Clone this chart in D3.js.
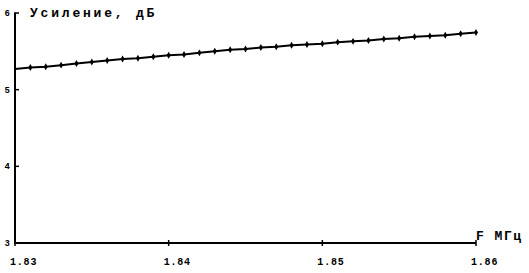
<!DOCTYPE html>
<html><head><meta charset="utf-8">
<script src="https://cdn.jsdelivr.net/npm/d3@7"></script>
<style>body{margin:0;background:#fff}svg{display:block}text{font-family:"Liberation Mono","DejaVu Sans Mono",monospace;font-weight:bold;fill:#000}</style>
</head><body><svg id="c" width="529" height="273"></svg>
<script>
const freq = [1.830,1.831,1.832,1.833,1.834,1.835,1.836,1.837,1.838,1.839,1.840,1.841,1.842,1.843,1.844,1.845,1.846,1.847,1.848,1.849,1.850,1.851,1.852,1.853,1.854,1.855,1.856,1.857,1.858,1.859,1.860];
const gain = [5.27,5.29,5.30,5.32,5.34,5.36,5.38,5.40,5.41,5.43,5.45,5.46,5.48,5.50,5.52,5.53,5.55,5.56,5.58,5.59,5.60,5.62,5.63,5.64,5.66,5.67,5.69,5.70,5.71,5.73,5.745];
const xTicks = [1.83,1.84,1.85,1.86];
const xTickLabels = ["1.83","1.84","1.85","1.86"];
const yTicks = [3,4,5,6];
const yTickLabels = ["3","4","5","6"];
const yTitle = "Усиление, дБ";
const xTitle = "F МГц";

const svg = d3.select("#c");
const x = d3.scaleLinear().domain([1.83,1.86]).range([15,476]);
const y = d3.scaleLinear().domain([3,6]).range([243,13]);

// axes lines
svg.append("line").attr("x1",x(1.83)).attr("x2",x(1.83)).attr("y1",y(6)).attr("y2",y(3)+1)
  .attr("stroke","#000").attr("stroke-width",2);
svg.append("line").attr("x1",x(1.83)).attr("x2",x(1.86)).attr("y1",y(3)).attr("y2",y(3))
  .attr("stroke","#000").attr("stroke-width",2);

// y ticks
yTicks.forEach((t,i)=>{
  svg.append("line").attr("x1",x(1.83)-1).attr("x2",x(1.83)+4).attr("y1",y(t)).attr("y2",y(t)).attr("stroke","#000").attr("stroke-width",1.5);
  svg.append("text").attr("x",10).attr("y",y(t)+3).attr("text-anchor","end").attr("font-size",9).text(yTickLabels[i]);
});
// x ticks
xTicks.forEach((t,i)=>{
  svg.append("line").attr("x1",x(t)).attr("x2",x(t)).attr("y1",y(3)-3).attr("y2",y(3)+3).attr("stroke","#000").attr("stroke-width",1.5);
  svg.append("text").attr("x",x(t)-5).attr("y",265).attr("font-size",10).attr("letter-spacing",0.8).text(xTickLabels[i]);
});

svg.append("text").attr("x",30).attr("y",17).attr("font-size",13).attr("letter-spacing",2.8).text(yTitle);
svg.append("text").attr("x",476).attr("y",240).attr("font-size",13).attr("letter-spacing",1.5).text(xTitle);

const pts = freq.map((f,i)=>[f,gain[i]]);
svg.append("path").datum(pts)
  .attr("d",d3.line().x(d=>x(d[0])).y(d=>y(d[1])))
  .attr("fill","none").attr("stroke","#000").attr("stroke-width",2);
svg.selectAll("path.m").data(pts.slice(1)).enter().append("path").attr("class","m")
  .attr("transform",d=>`translate(${x(d[0])},${y(d[1])})`)
  .attr("d",d3.symbol().type(d3.symbolDiamond).size(14))
  .attr("fill","#000");
</script></body></html>
